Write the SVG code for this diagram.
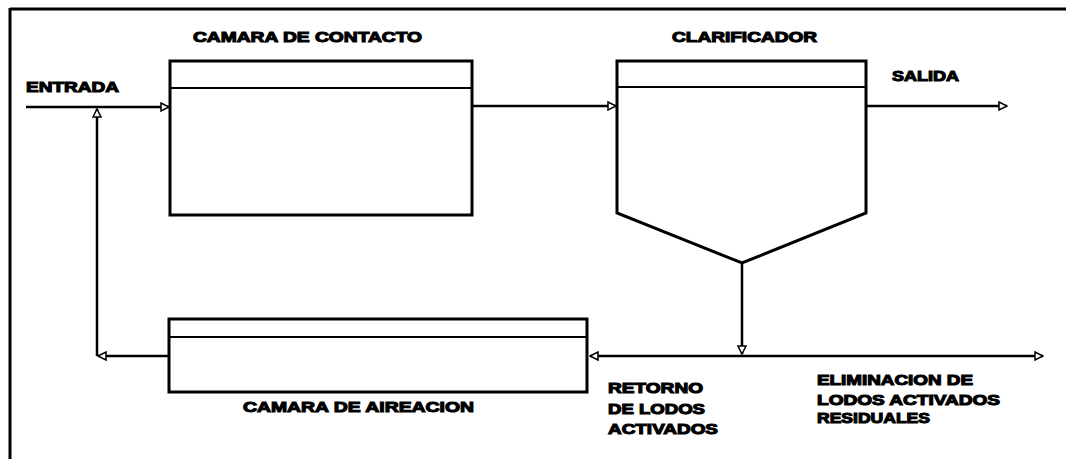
<svg xmlns="http://www.w3.org/2000/svg" width="1066" height="459" viewBox="0 0 1066 459">
<style>
.box{fill:#fff;stroke:#000;stroke-width:3}
.sep{stroke:#000;stroke-width:2}
.ln{fill:none;stroke:#000;stroke-width:2.5}
.t{font-family:"Liberation Sans",Arial,sans-serif;font-weight:bold;font-size:15px;fill:#000;stroke:#000;stroke-width:1.1}
</style>
<defs>
<marker id="ah" viewBox="0 0 10 10" refX="9" refY="5" markerWidth="4" markerHeight="4" orient="auto" markerUnits="strokeWidth">
<path d="M1,1 L9,5 L1,9 Z" fill="#fff" stroke="#000" stroke-width="1.5"/>
</marker>
</defs>
<rect width="1066" height="459" fill="#fff"/>
<g id="frame">
<line x1="10" y1="9" x2="1066" y2="9" stroke="#000" stroke-width="3"/>
<line x1="10" y1="8" x2="10" y2="459" stroke="#000" stroke-width="3"/>
</g>
<g id="contacto">
<rect class="box" x="170" y="61" width="302" height="154"/>
<line class="sep" x1="170" y1="88" x2="472" y2="88"/>
<text class="t" x="193" y="42" textLength="229" lengthAdjust="spacingAndGlyphs">CAMARA DE CONTACTO</text>
</g>
<g id="clarificador">
<path class="box" d="M617,61 H866 V213 L742,263 L617,213 Z"/>
<line class="sep" x1="617" y1="87" x2="866" y2="87"/>
<text class="t" x="672" y="42" textLength="145" lengthAdjust="spacingAndGlyphs">CLARIFICADOR</text>
</g>
<g id="aireacion">
<rect class="box" x="169" y="319" width="418" height="73"/>
<line class="sep" x1="169" y1="337" x2="587" y2="337"/>
<text class="t" x="243" y="412" textLength="231" lengthAdjust="spacingAndGlyphs">CAMARA DE AIREACION</text>
</g>
<g id="labels">
<text class="t" x="26" y="92" textLength="93" lengthAdjust="spacingAndGlyphs">ENTRADA</text>
<text class="t" x="892" y="81" textLength="67" lengthAdjust="spacingAndGlyphs">SALIDA</text>
<text class="t" x="608" y="393" textLength="95" lengthAdjust="spacingAndGlyphs">RETORNO</text>
<text class="t" x="608" y="414" textLength="97" lengthAdjust="spacingAndGlyphs">DE LODOS</text>
<text class="t" x="608" y="434" textLength="110" lengthAdjust="spacingAndGlyphs">ACTIVADOS</text>
<text class="t" x="817" y="385" textLength="156" lengthAdjust="spacingAndGlyphs">ELIMINACION DE</text>
<text class="t" x="817" y="405" textLength="183" lengthAdjust="spacingAndGlyphs">LODOS ACTIVADOS</text>
<text class="t" x="817" y="423" textLength="113" lengthAdjust="spacingAndGlyphs">RESIDUALES</text>
</g>
<g id="connectors">
<line class="ln" x1="26" y1="107" x2="169" y2="107" marker-end="url(#ah)"/>
<line class="ln" x1="472" y1="106" x2="616" y2="106" marker-end="url(#ah)"/>
<line class="ln" x1="866" y1="106" x2="1007" y2="106" marker-end="url(#ah)"/>
<line class="ln" x1="742" y1="263" x2="742" y2="354" marker-end="url(#ah)"/>
<line class="ln" x1="742" y1="356" x2="590" y2="356" marker-end="url(#ah)"/>
<line class="ln" x1="742" y1="356" x2="1043" y2="356" marker-end="url(#ah)"/>
<line class="ln" x1="169" y1="356" x2="98" y2="356" marker-end="url(#ah)"/>
<line class="ln" x1="97" y1="356" x2="97" y2="109" marker-end="url(#ah)"/>
</g>
</svg>
